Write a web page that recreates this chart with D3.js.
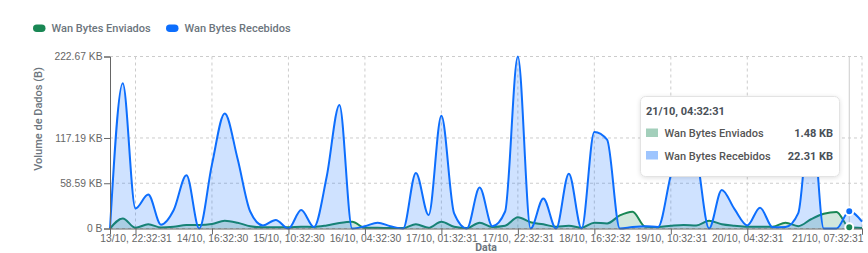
<!DOCTYPE html>
<html>
<head>
<meta charset="utf-8">
<script src="https://cdn.jsdelivr.net/npm/d3@7"></script>
<style>
  html, body { margin: 0; padding: 0; background: #fff; }
  svg { display: block; }
  .tick text { font-family: "Liberation Sans", Arial, sans-serif; font-size: 10.3px; fill: #666; }
</style>
</head>
<body>
<svg id="chart" width="868" height="253"></svg>
<script>
// ---------------- DATA ----------------
const labels = [
  "13/10, 16:32:31","13/10, 19:32:31","13/10, 22:32:31","14/10, 01:32:30","14/10, 04:32:30",
  "14/10, 07:32:30","14/10, 10:32:30","14/10, 13:32:30","14/10, 16:32:30","14/10, 19:32:30",
  "14/10, 22:32:30","15/10, 01:32:30","15/10, 04:32:30","15/10, 07:32:30","15/10, 10:32:30",
  "15/10, 13:32:30","15/10, 16:32:30","15/10, 19:32:30","15/10, 22:32:30","16/10, 01:32:30",
  "16/10, 04:32:30","16/10, 07:32:30","16/10, 10:32:30","16/10, 13:32:31","16/10, 19:32:31",
  "16/10, 22:32:31","17/10, 01:32:31","17/10, 04:32:31","17/10, 07:32:31","17/10, 10:32:31",
  "17/10, 16:32:31","17/10, 19:32:31","17/10, 22:32:31","18/10, 01:32:31","18/10, 04:32:31",
  "18/10, 07:32:31","18/10, 10:32:31","18/10, 13:32:32","18/10, 16:32:32","18/10, 19:32:31",
  "18/10, 22:32:31","19/10, 01:32:31","19/10, 04:32:31","19/10, 07:32:31","19/10, 10:32:31",
  "19/10, 13:32:31","19/10, 16:32:31","19/10, 19:32:31","19/10, 22:32:31","20/10, 01:32:31",
  "20/10, 04:32:31","20/10, 07:32:31","20/10, 10:32:31","20/10, 13:32:31","20/10, 16:32:31",
  "20/10, 19:32:31","20/10, 22:32:31","21/10, 01:32:31","21/10, 04:32:31","21/10, 07:32:31"
];
// Wan Bytes Enviados (KB)
const enviados = [
  0, 13, 1, 5.4, 1.3, 2.3, 4.5, 4.5, 5.8, 10,
  7.5, 3, 1.5, 1.5, 1.5, 2.3, 2, 4, 7.2, 8.8,
  1, 1, 0.5, 0.5, 5.5, 1, 8.8, 2.3, 0.5, 7.5,
  2, 3.5, 14.5, 8, 5.4, 2.3, 3.5, 1, 7.5, 6.5,
  17, 21.8, 2.3, 2, 3.5, 4.5, 4, 10, 5.4, 3.5,
  2.3, 2.3, 2.3, 7.5, 3, 12, 19, 21.5, 1.48, 0.8
];
// Wan Bytes Recebidos (KB)
const recebidos = [
  0, 188, 26, 44, 5, 24, 69, 0, 83, 149,
  91, 22, 4, 11, 0, 24, 2, 67, 160, 0,
  3, 7.5, 3, 0, 72, 17.5, 146, 19.5, 0, 53,
  3, 22, 222.67, 0, 39, 0, 71, 0, 125, 115,
  0, 2, 3, 2, 69, 125, 95, 0, 50, 25,
  4, 27, 1.5, 2, 20, 160, 0, 0, 22.31, 9
];
const seriesNames = ["Wan Bytes Enviados", "Wan Bytes Recebidos"];
const yTicks = [0, 58.59, 117.19, 222.67];
const xTickLabels = [
  "13/10, 22:32:31","14/10, 16:32:30","15/10, 10:32:30","16/10, 04:32:30","17/10, 01:32:31",
  "17/10, 22:32:31","18/10, 16:32:32","19/10, 10:32:31","20/10, 04:32:31","21/10, 07:32:31"
];
const hoverLabel = "21/10, 04:32:31";

// ---------------- CHART ----------------
const svg = d3.select("#chart");
const L = 110, R = 862, T = 56.5, B = 228.5;
const colEnv = "#198754", colRec = "#0d6efd";
const fmt = v => v === 0 ? "0 B" : v.toFixed(2) + " KB";

const x = d3.scalePoint().domain(labels).range([L, R]);
const y = d3.scaleLinear().domain([0, d3.max(yTicks)]).range([B, T]);

const defs = svg.append("defs");
const f = defs.append("filter").attr("id", "shadow").attr("x", "-10%").attr("y", "-20%").attr("width", "120%").attr("height", "150%");
f.append("feDropShadow").attr("dx", 0).attr("dy", 1).attr("stdDeviation", 2).attr("flood-color", "#000").attr("flood-opacity", 0.12);

// grid
const grid = svg.append("g");
grid.selectAll("line.h").data(yTicks).join("line")
  .attr("x1", L).attr("x2", R).attr("y1", d => y(d)).attr("y2", d => y(d))
  .attr("stroke", "#ccc").attr("stroke-dasharray", "3 3");
grid.selectAll("line.v").data(xTickLabels).join("line")
  .attr("x1", d => x(d)).attr("x2", d => x(d)).attr("y1", T).attr("y2", B)
  .attr("stroke", "#ccc").attr("stroke-dasharray", "3 3");

// cursor
svg.append("line").attr("x1", x(hoverLabel)).attr("x2", x(hoverLabel)).attr("y1", T).attr("y2", B)
  .attr("stroke", "#ccc").attr("stroke-width", 1);

const idx = d3.range(labels.length);
function drawSeries(vals, col) {
  const area = d3.area().x(i => x(labels[i])).y0(y(0)).y1(i => y(vals[i])).curve(d3.curveMonotoneX);
  const line = d3.line().x(i => x(labels[i])).y(i => y(vals[i])).curve(d3.curveMonotoneX);
  svg.append("path").attr("d", area(idx)).attr("fill", col).attr("fill-opacity", 0.2);
  svg.append("path").attr("d", line(idx)).attr("fill", "none").attr("stroke", col).attr("stroke-width", 2);
}
drawSeries(enviados, colEnv);
drawSeries(recebidos, colRec);

// axes
const yAxis = svg.append("g").attr("transform", `translate(${L},0)`)
  .call(d3.axisLeft(y).tickValues(yTicks).tickFormat(fmt).tickSize(6).tickPadding(1.5));
const xAxis = svg.append("g").attr("transform", `translate(0,${B})`)
  .call(d3.axisBottom(x).tickValues(xTickLabels).tickSize(6).tickPadding(0));
[yAxis, xAxis].forEach(a => {
  a.select(".domain").attr("stroke", "#666");
  a.selectAll(".tick line").attr("stroke", "#666");
});
// keep last x label inside the plot end (shifted like the reference)
xAxis.selectAll(".tick text").each(function(d) {
  const w = this.getComputedTextLength();
  const cx = x(d);
  const gap = cx + w / 2 - (R + 1);
  if (gap > 0) d3.select(this).attr("x", -gap);
});

// axis titles
svg.append("text").attr("transform", "translate(41.5,119) rotate(-90)")
  .attr("text-anchor", "middle")
  .style("font-family", "Roboto, sans-serif").style("font-weight", 500).style("font-size", "11px")
  .attr("fill", "#6c757d").text("Volume de Dados (B)");
svg.append("text").attr("x", (L + R) / 2).attr("y", 250.5).attr("text-anchor", "middle")
  .style("font-family", "Roboto, sans-serif").style("font-weight", 700).style("font-size", "10.5px")
  .attr("fill", "#6c757d").text("Data");

// active dots
const hi = labels.indexOf(hoverLabel);
[[enviados, colEnv], [recebidos, colRec]].forEach(([vals, col]) => {
  svg.append("circle").attr("cx", x(hoverLabel)).attr("cy", y(vals[hi])).attr("r", 4)
    .attr("fill", col).attr("stroke", "#fff").attr("stroke-width", 2);
});

// legend
const legend = svg.append("g");
const legX = [33, 166];
seriesNames.forEach((name, i) => {
  const g = legend.append("g").attr("transform", `translate(${legX[i]},0)`);
  g.append("rect").attr("x", 0).attr("y", 24.5).attr("width", 12.5).attr("height", 7.5).attr("rx", 3.75)
    .attr("fill", i === 0 ? colEnv : colRec);
  g.append("text").attr("x", 18.5).attr("y", 32)
    .style("font-family", "Roboto, sans-serif").style("font-weight", 500).style("font-size", "11px")
    .attr("fill", "#6c757d").text(name);
});

// tooltip
const tip = svg.append("g");
tip.append("rect").attr("x", 640.5).attr("y", 96.5).attr("width", 199).attr("height", 80).attr("rx", 5)
  .attr("fill", "#fff").attr("stroke", "#e3e3e3").attr("filter", "url(#shadow)");
tip.append("text").attr("x", 646).attr("y", 115)
  .style("font-family", "Roboto, sans-serif").style("font-weight", 700).style("font-size", "11px")
  .attr("fill", "#495057").text(hoverLabel);
const swatch = ["#a3cfbb", "#9ec5fe"];
[enviados, recebidos].forEach((vals, i) => {
  const yy = 128.5 + i * 22.5;
  tip.append("rect").attr("x", 646).attr("y", yy).attr("width", 12).attr("height", 8.5).attr("fill", swatch[i]);
  tip.append("text").attr("x", 664.5).attr("y", yy + 8.5)
    .style("font-family", "Roboto, sans-serif").style("font-weight", 500).style("font-size", "11px")
    .attr("fill", "#555").text(seriesNames[i]);
  tip.append("text").attr("x", 833).attr("y", yy + 8.5).attr("text-anchor", "end")
    .style("font-family", "Roboto, sans-serif").style("font-weight", 700).style("font-size", "11px")
    .attr("fill", "#495057").text(fmt(vals[hi]));
});
</script>
</body>
</html>
